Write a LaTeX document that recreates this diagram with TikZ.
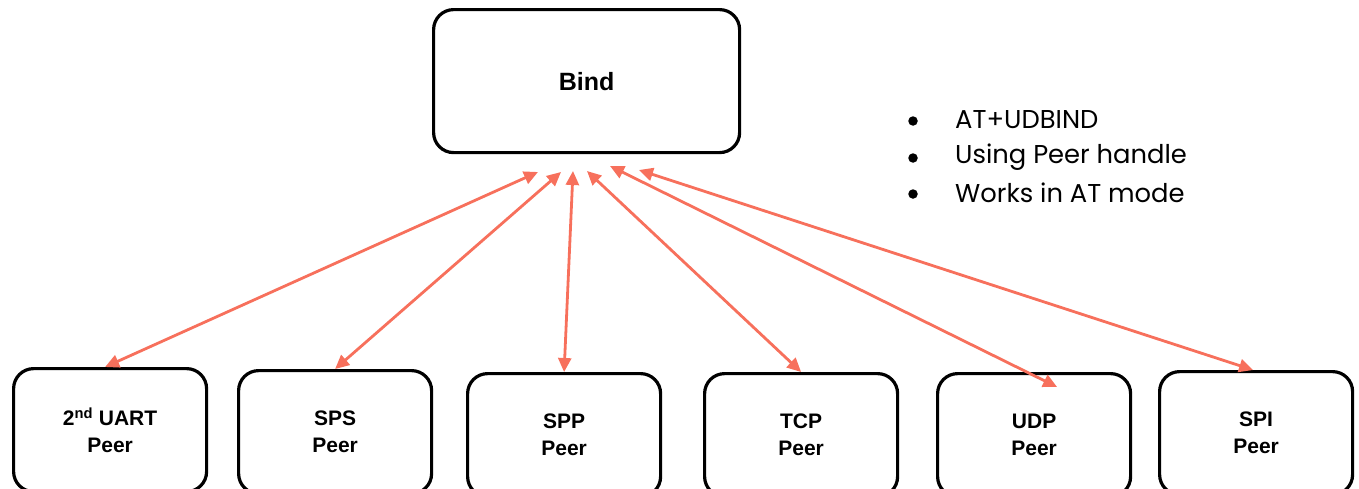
\documentclass[tikz,border=0pt]{standalone}
\usepackage{fontspec}
\setmainfont{Liberation Sans}
\newfontfamily\bulletfont{Poppins}
\usetikzlibrary{arrows.meta}
\definecolor{arrowc}{RGB}{247,112,92}
\begin{document}
\begin{tikzpicture}[x=1pt,y=-1pt,
 box/.style={draw=black, line width=3.2pt, rounded corners=20pt, fill=white, inner sep=0pt, align=center, anchor=north west, font=\fontsize{21}{27}\selectfont\bfseries},
 peer/.style={box, minimum width=193pt, minimum height=123pt},
 conn/.style={draw=arrowc, line width=2.8pt, {Triangle[length=14pt,width=13pt]}-{Triangle[length=14pt,width=13pt]}},
 bul/.style={anchor=west, font=\bulletfont\fontsize{25.8}{26}\selectfont, inner sep=0pt},
 dot/.style={circle, fill=black, inner sep=0pt, minimum size=9.5pt}]
\useasboundingbox (0,0) rectangle (1359,488);
\node[box, minimum width=306pt, minimum height=143pt, font=\fontsize{25}{30}\selectfont\bfseries] (bind) at (432,8) {Bind};
\node[peer] (b1) at (12,367) {2\textsuperscript{nd} UART\\Peer};
\node[peer] (b2) at (237,369) {SPS\\Peer};
\node[peer] (b3) at (466,372) {SPP\\Peer};
\node[peer] (b4) at (703,372) {TCP\\Peer};
\node[peer] (b5) at (936,372) {UDP\\Peer};
\node[peer] (b6) at (1158,370) {SPI\\Peer};
\coordinate (t1) at (538,172);
\coordinate (t2) at (561,172);
\coordinate (t3) at (573,171);
\coordinate (t4) at (587,171);
\coordinate (t5) at (610,166);
\coordinate (t6) at (639,170);
\draw[conn] (t1) -- ([xshift=-5pt]b1.north);
\draw[conn] (t2) -- (b2.north);
\draw[conn] (t3) -- (b3.north);
\draw[conn] (t4) -- (b4.north);
\draw[conn] (t5) -- ([xshift=23pt,yshift=-15pt]b5.north);
\draw[conn] (t6) -- ([xshift=-3pt]b6.north);
\node[dot] (d1) at (913,121) {};
\node[dot] (d2) at (913,158) {};
\node[dot] (d3) at (913,194) {};
\node[bul] (l1) at (955,120) {AT+UDBIND};
\node[bul] (l2) at (955,157) {Using Peer handle};
\node[bul] (l3) at (955,193) {Works in AT mode};
\end{tikzpicture}
\end{document}
